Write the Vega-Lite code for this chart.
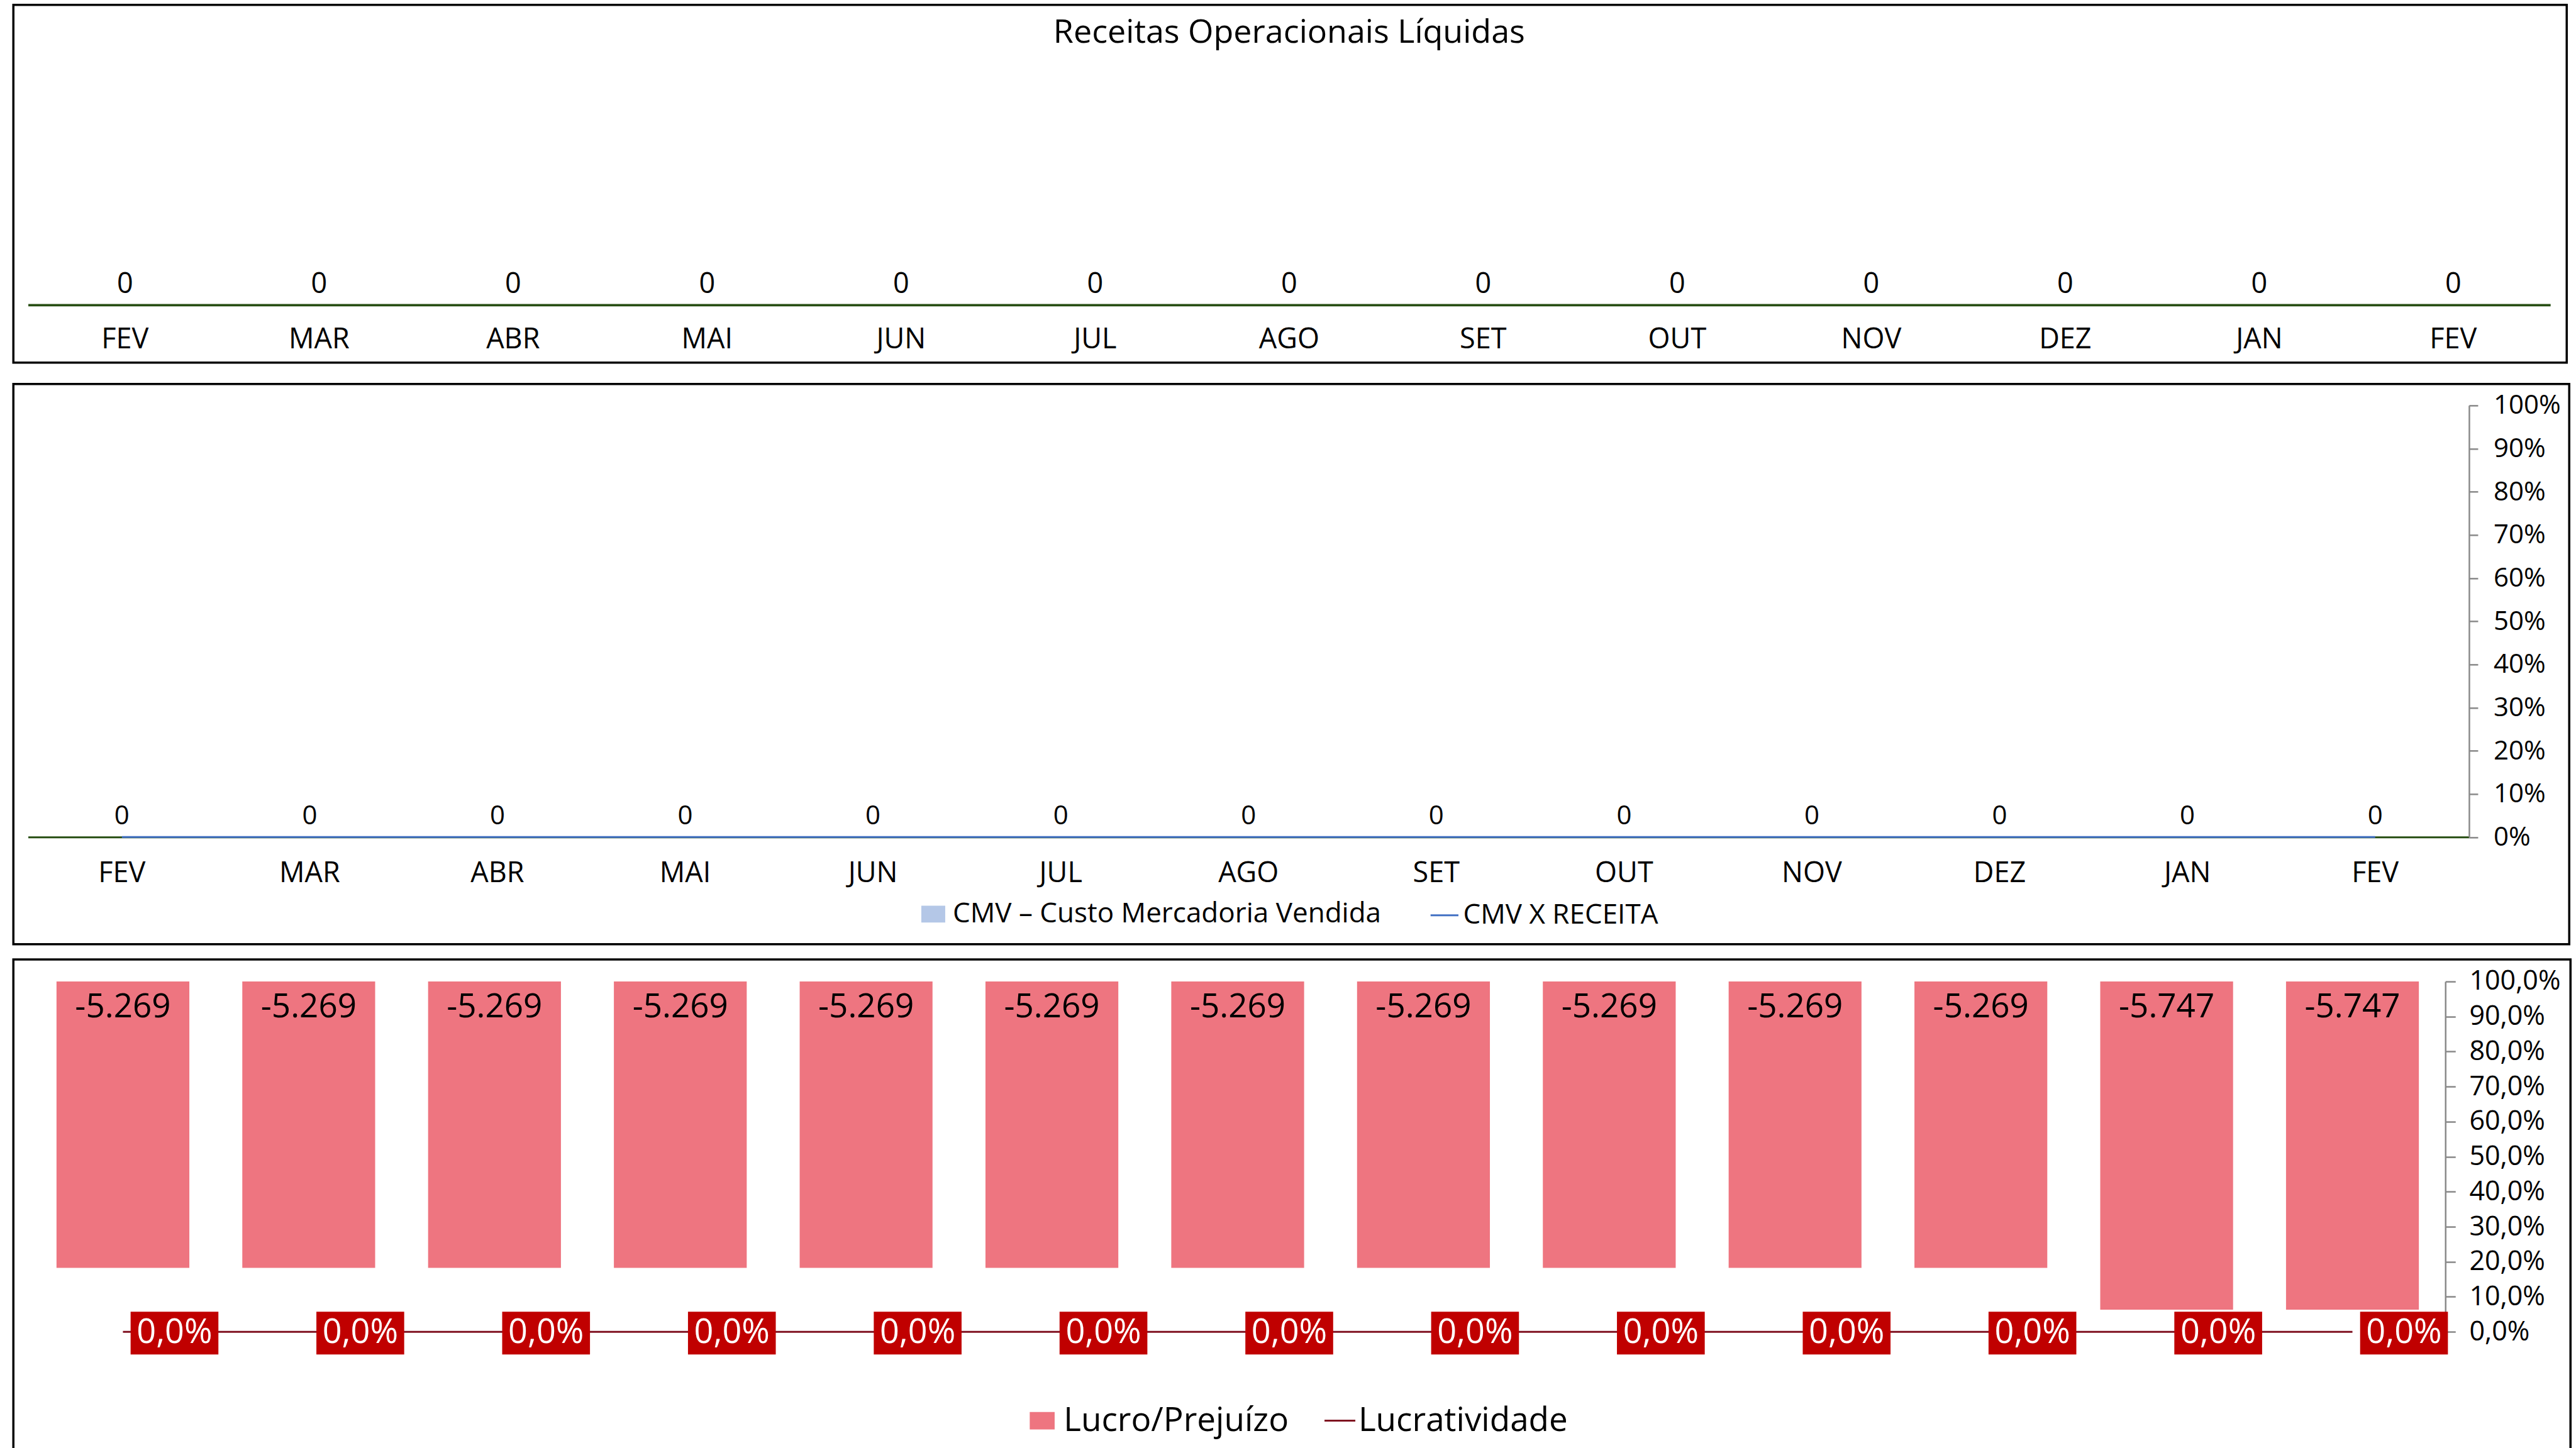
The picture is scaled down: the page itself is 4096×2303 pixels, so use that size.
{
  "$schema": "https://vega.github.io/schema/vega-lite/v6.json",
  "padding": {"left": 19.25, "top": 5.75, "right": 0, "bottom": -6},
  "background": "white",
  "config": {
    "font": "Open Sans",
    "view": {"stroke": "#000000", "strokeWidth": 3.5},
    "locale": {"number": {"decimal": ",", "thousands": ".", "grouping": [3], "currency": ["R$ ", ""], "minus": "-", "percent": "%"}},
    "legend": {"labelFont": "Open Sans", "labelColor": "#000000", "labelLimit": 3000, "padding": 0, "titlePadding": 0},
    "axis": {"labelFont": "Open Sans"}
  },
  "datasets": {
    "meses": [
      {"n": 1, "mes": "FEV", "receita": 0, "cmv": 0, "cmv_receita": 0, "lucro": -5269, "lucratividade": 0},
      {"n": 2, "mes": "MAR", "receita": 0, "cmv": 0, "cmv_receita": 0, "lucro": -5269, "lucratividade": 0},
      {"n": 3, "mes": "ABR", "receita": 0, "cmv": 0, "cmv_receita": 0, "lucro": -5269, "lucratividade": 0},
      {"n": 4, "mes": "MAI", "receita": 0, "cmv": 0, "cmv_receita": 0, "lucro": -5269, "lucratividade": 0},
      {"n": 5, "mes": "JUN", "receita": 0, "cmv": 0, "cmv_receita": 0, "lucro": -5269, "lucratividade": 0},
      {"n": 6, "mes": "JUL", "receita": 0, "cmv": 0, "cmv_receita": 0, "lucro": -5269, "lucratividade": 0},
      {"n": 7, "mes": "AGO", "receita": 0, "cmv": 0, "cmv_receita": 0, "lucro": -5269, "lucratividade": 0},
      {"n": 8, "mes": "SET", "receita": 0, "cmv": 0, "cmv_receita": 0, "lucro": -5269, "lucratividade": 0},
      {"n": 9, "mes": "OUT", "receita": 0, "cmv": 0, "cmv_receita": 0, "lucro": -5269, "lucratividade": 0},
      {"n": 10, "mes": "NOV", "receita": 0, "cmv": 0, "cmv_receita": 0, "lucro": -5269, "lucratividade": 0},
      {"n": 11, "mes": "DEZ", "receita": 0, "cmv": 0, "cmv_receita": 0, "lucro": -5269, "lucratividade": 0},
      {"n": 12, "mes": "JAN", "receita": 0, "cmv": 0, "cmv_receita": 0, "lucro": -5747, "lucratividade": 0},
      {"n": 13, "mes": "FEV", "receita": 0, "cmv": 0, "cmv_receita": 0, "lucro": -5747, "lucratividade": 0}
    ],
    "titulo": [{"titulo": "Receitas Operacionais Líquidas"}]
  },
  "data": {"name": "meses"},
  "spacing": 30.1,
  "resolve": {"legend": {"fill": "independent", "stroke": "independent"}},
  "vconcat": [
    {
      "width": 4060, "height": 569,
      "encoding": {"x": {"field": "n", "type": "ordinal", "scale": {"range": [23.3, 4033.9], "paddingInner": 0.3, "paddingOuter": 0.15},
        "axis": {"orient": "bottom", "offset": -91.8, "title": null, "labels": false, "ticks": false, "grid": false, "domainColor": "#274E13", "domainWidth": 3.8}}},
      "layer": [
        {"mark": {"type": "bar", "color": "#4472C4"},
         "encoding": {"y": {"field": "receita", "type": "quantitative", "scale": {"domain": [0, 1000], "range": [477.2, 0]}, "axis": null}}},
        {"mark": {"type": "text", "fontSize": 45, "baseline": "middle", "dy": -33, "color": "#000000"},
         "encoding": {"y": {"field": "receita", "type": "quantitative", "axis": null}, "text": {"field": "receita", "type": "quantitative", "format": ",.0f"}}},
        {"mark": {"type": "text", "fontSize": 45, "baseline": "middle", "dy": 54.7, "color": "#000000"},
         "encoding": {"y": {"datum": 0, "type": "quantitative", "axis": null}, "text": {"field": "mes", "type": "nominal"}}},
        {"data": {"name": "titulo"},
         "mark": {"type": "text", "fontSize": 52, "baseline": "middle", "color": "#000000"},
         "encoding": {"x": {"datum": 7, "type": "ordinal"}, "y": {"datum": 907, "type": "quantitative", "axis": null}, "text": {"field": "titulo", "type": "nominal"}}}
      ]
    },
    {
      "spacing": 20.2,
      "resolve": {"legend": {"fill": "independent", "stroke": "independent"}},
      "vconcat": [
        {
          "width": 4064, "height": 891,
          "encoding": {"x": {"field": "n", "type": "ordinal", "scale": {"range": [23.3, 3904.7], "paddingInner": 0.3, "paddingOuter": 0.15},
            "axis": {"orient": "bottom", "offset": -170.5, "title": null, "labels": false, "ticks": false, "grid": false, "domainColor": "#274E13", "domainWidth": 3}}},
          "layer": [
            {"mark": {"type": "bar"},
             "encoding": {
               "y": {"field": "cmv", "type": "quantitative", "scale": {"domain": [0, 1000], "range": [720.5, 0]}, "axis": null},
               "fill": {"datum": "CMV – Custo Mercadoria Vendida", "type": "nominal", "scale": {"range": ["#B4C7E7"]},
                 "legend": {"orient": "none", "legendX": 1440.7, "legendY": 821, "title": null, "symbolType": "M-1,-0.7H1V0.7H-1Z", "symbolSize": 1444, "symbolStrokeWidth": 0, "labelFontSize": 44, "labelOffset": 9}}}},
            {"mark": {"type": "text", "fontSize": 42, "baseline": "middle", "dy": -33, "color": "#000000"},
             "encoding": {"y": {"field": "cmv", "type": "quantitative", "scale": {"domain": [0, 1000], "range": [720.5, 0]}, "axis": null}, "text": {"field": "cmv", "type": "quantitative", "format": ",.0f"}}},
            {"mark": {"type": "text", "fontSize": 45, "baseline": "middle", "dy": 57.5, "color": "#000000"},
             "encoding": {"y": {"datum": 0, "type": "quantitative", "scale": {"domain": [0, 1000], "range": [720.5, 0]}, "axis": null}, "text": {"field": "mes", "type": "nominal"}}},
            {"mark": {"type": "line", "strokeWidth": 3},
             "encoding": {
               "y": {"field": "cmv_receita", "type": "quantitative", "scale": {"domain": [0, 1], "range": [720.5, 34]},
                 "axis": {"orient": "right", "offset": -159.3, "format": ".0%", "values": [0, 0.1, 0.2, 0.3, 0.4, 0.5, 0.6, 0.7, 0.8, 0.9, 1], "title": null, "grid": false, "domainColor": "#898989", "domainWidth": 2.5, "tickColor": "#898989", "tickWidth": 2.5, "tickSize": 14, "labelFontSize": 42, "labelColor": "#000000", "labelPadding": 24.5, "labelBaseline": "middle", "labelFlush": false, "labelOverlap": false}},
               "stroke": {"datum": "CMV X RECEITA", "type": "nominal", "scale": {"range": ["#4472C4"]},
                 "legend": {"orient": "none", "legendX": 2251.6, "legendY": 821, "title": null, "symbolType": "stroke", "symbolSize": 1962, "symbolStrokeWidth": 3, "labelFontSize": 44, "labelOffset": 5.7}}}}
          ],
          "resolve": {"scale": {"y": "independent", "fill": "independent", "stroke": "independent"}}
        },
        {
          "width": 4066, "height": 782,
          "encoding": {"x": {"field": "n", "type": "ordinal", "scale": {"range": [26.5, 3867.0], "paddingInner": 0.285, "paddingOuter": 0.1425}, "axis": null}},
          "layer": [
            {"mark": {"type": "bar"},
             "encoding": {
               "y": {"field": "lucro", "type": "quantitative", "scale": {"domain": [-6000, -2000], "range": [592.2, 34.9]}, "axis": null},
               "y2": {"datum": -2000},
               "fill": {"datum": "Lucro/Prejuízo", "type": "nominal", "scale": {"range": ["#EE7580"]},
                 "legend": {"orient": "none", "legendX": 1609.4, "legendY": 707, "title": null, "symbolType": "M-1,-0.7H1V0.7H-1Z", "symbolSize": 1568, "symbolStrokeWidth": 0, "labelFontSize": 53, "labelOffset": 7.6}}}},
            {"mark": {"type": "text", "fontSize": 53, "baseline": "middle", "dy": 41.5, "color": "#000000"},
             "encoding": {"y": {"datum": -2000, "type": "quantitative", "scale": {"domain": [-6000, -2000], "range": [592.2, 34.9]}, "axis": null}, "text": {"field": "lucro", "type": "quantitative", "format": ",.0f"}}},
            {"mark": {"type": "line", "strokeWidth": 3},
             "encoding": {
               "y": {"field": "lucratividade", "type": "quantitative", "scale": {"domain": [0, 1], "range": [592.2, 34.9]},
                 "axis": {"orient": "right", "offset": -199, "format": ".1%", "values": [0, 0.1, 0.2, 0.3, 0.4, 0.5, 0.6, 0.7, 0.8, 0.9, 1], "title": null, "grid": false, "domainColor": "#898989", "domainWidth": 2.5, "tickColor": "#898989", "tickWidth": 2.5, "tickSize": 16, "labelFontSize": 43, "labelColor": "#000000", "labelPadding": 21.7, "labelBaseline": "middle", "labelFlush": false, "labelOverlap": false}},
               "stroke": {"datum": "Lucratividade", "type": "nominal", "scale": {"range": ["#7F1020"]},
                 "legend": {"orient": "none", "legendX": 2082.8, "legendY": 707, "title": null, "symbolType": "stroke", "symbolSize": 2401, "symbolStrokeWidth": 3, "labelFontSize": 53, "labelOffset": 2.9}}}},
            {"mark": {"type": "point", "shape": "M-1,-0.487H1V0.487H-1Z", "size": 19488, "filled": true, "color": "#C00000", "opacity": 1, "xOffset": 82, "yOffset": 2},
             "encoding": {"y": {"field": "lucratividade", "type": "quantitative", "scale": {"domain": [0, 1], "range": [592.2, 34.9]}, "axis": null}}},
            {"mark": {"type": "text", "fontSize": 54, "baseline": "middle", "dx": 82, "dy": 2, "color": "#FFFFFF"},
             "encoding": {"y": {"field": "lucratividade", "type": "quantitative", "scale": {"domain": [0, 1], "range": [592.2, 34.9]}, "axis": null}, "text": {"field": "lucratividade", "type": "quantitative", "format": ".1%"}}}
          ],
          "resolve": {"scale": {"y": "independent", "fill": "independent", "stroke": "independent"}}
        }
      ]
    }
  ]
}
